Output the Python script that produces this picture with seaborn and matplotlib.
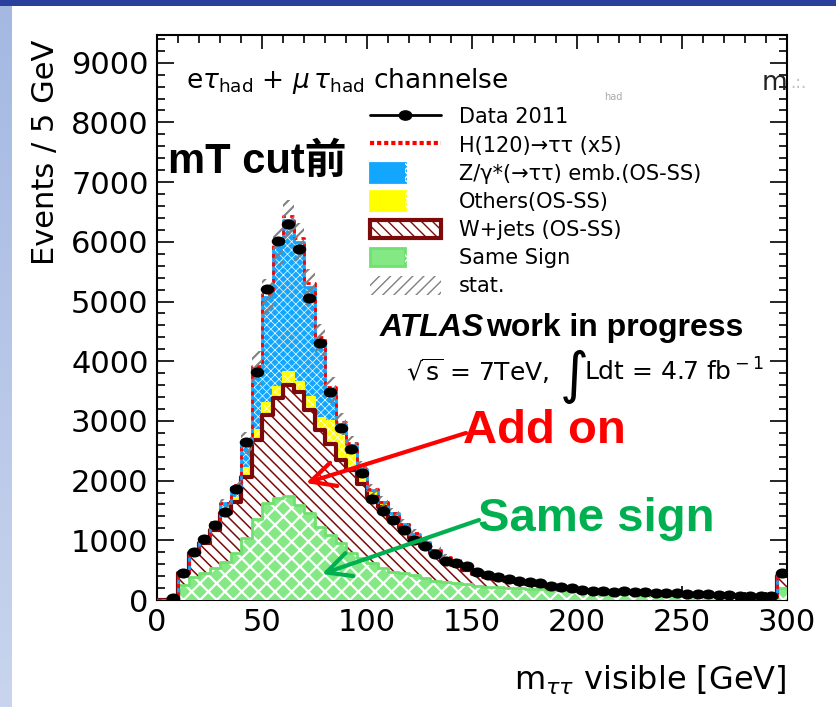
import numpy as np
import pandas as pd
import matplotlib
matplotlib.use("Agg")
import matplotlib.pyplot as plt
import seaborn as sns
from matplotlib.lines import Line2D
from matplotlib.patches import Patch, Rectangle
from matplotlib.path import Path
from matplotlib.transforms import Affine2D
from matplotlib.ticker import MultipleLocator
from matplotlib.colors import LinearSegmentedColormap
from matplotlib.legend_handler import HandlerTuple

# ---------------- data (5 GeV bins, 0-300 GeV) ----------------
bin_edges = np.arange(0, 305, 5)

same_sign = [0, 10, 251, 380, 447, 531, 642, 782, 1034, 1352,
             1620, 1704, 1743, 1592, 1453, 1228, 1089, 950, 782, 698,
             614, 531, 474, 452, 419, 363, 324, 307, 290, 270,
             240, 223, 215, 205, 195, 190, 180, 170, 160, 150,
             140, 132, 125, 118, 110, 104, 98, 92, 87, 82,
             78, 74, 70, 66, 62, 58, 55, 52, 50, 195]
wjets = [0, 5, 196, 402, 503, 642, 811, 866, 1033, 1330,
         1479, 1674, 1858, 1898, 1730, 1620, 1531, 1395, 1398, 1252,
         1116, 1029, 906, 748, 621, 537, 456, 353, 290, 240,
         200, 167, 135, 115, 100, 85, 70, 55, 45, 35,
         28, 25, 21, 18, 17, 16, 15, 14, 13, 12,
         11, 10, 10, 9, 9, 9, 8, 8, 7, 205]
others = [0, 3, 15, 18, 35, 47, 87, 56, 140, 167,
          195, 195, 224, 167, 223, 195, 380, 455, 270, 130,
          60, 40, 40, 40, 40, 40, 30, 30, 25, 25,
          25, 20, 20, 15, 15, 13, 12, 11, 10, 9,
          8, 7, 6, 6, 5, 5, 5, 4, 4, 4,
          4, 4, 3, 3, 3, 3, 3, 2, 2, 30]
ztautau = [0, 4, 13, 15, 25, 40, 80, 196, 419, 1037,
           1787, 2345, 2540, 2345, 1842, 1312, 520, 150, 150, 120,
           50, 40, 30, 30, 30, 25, 25, 20, 20, 20,
           15, 15, 15, 13, 12, 12, 10, 9, 9, 8,
           7, 6, 6, 5, 5, 5, 4, 4, 4, 4,
           3, 3, 3, 3, 3, 2, 2, 2, 2, 17]
higgs_x5 = [0, 0, 0, 0, 5, 8, 12, 18, 25, 35,
            50, 60, 70, 70, 60, 50, 40, 30, 22, 16,
            12, 9, 7, 5, 4, 3, 2, 2, 1, 1,
            1, 1, 0, 0, 0, 0, 0, 0, 0, 0,
            0, 0, 0, 0, 0, 0, 0, 0, 0, 0,
            0, 0, 0, 0, 0, 0, 0, 0, 0, 0]
stat_err = [0, 5, 40, 50, 60, 70, 80, 100, 180, 290,
            300, 320, 330, 320, 300, 260, 220, 180, 150, 130,
            110, 100, 90, 85, 80, 75, 70, 65, 60, 57,
            54, 51, 48, 46, 44, 42, 40, 38, 36, 34,
            32, 31, 30, 29, 28, 27, 26, 25, 24, 23,
            22, 21, 20, 20, 19, 19, 18, 18, 17, 40]
data_2011 = [0, 28, 458, 810, 1017, 1257, 1480, 1860, 2654, 3824,
             5209, 6013, 6293, 5874, 5053, 4300, 3479, 2887, 2529, 2133,
             1692, 1491, 1340, 1173, 1005, 910, 765, 653, 614, 575,
             475, 419, 380, 346, 324, 307, 279, 240, 223, 195,
             168, 156, 151, 140, 145, 140, 130, 120, 115, 110,
             105, 100, 95, 85, 80, 75, 70, 65, 60, 447]

x_ticks = [0, 50, 100, 150, 200, 250, 300]
y_ticks = [0, 1000, 2000, 3000, 4000, 5000, 6000, 7000, 8000, 9000]
legend_labels = ["Data 2011", "H(120)\u2192\u03c4\u03c4 (x5)",
                 "Z/\u03b3*(\u2192\u03c4\u03c4) emb.(OS-SS)", "Others(OS-SS)",
                 "W+jets (OS-SS)", "Same Sign", "stat."]

# ---------------- style ----------------
sns.set_theme(style="ticks")
plt.rcParams["font.family"] = ["DejaVu Sans"]
plt.rcParams["mathtext.fontset"] = "dejavusans"
plt.rcParams["hatch.linewidth"] = 1.0
plt.rcParams["text.color"] = "black"
plt.rcParams["axes.labelcolor"] = "black"

W, H = 836, 707
fig = plt.figure(figsize=(W / 100, H / 100), dpi=100)
fig.patch.set_facecolor("white")


def fx(x):
    return x / W


def fy(y):
    return 1 - y / H


# slide decoration
bg = fig.add_axes([0, 0, fx(12), fy(6)])
grad = np.linspace(0, 1, 256).reshape(-1, 1)
bg.imshow(grad, aspect="auto",
          cmap=LinearSegmentedColormap.from_list("s", ["#a4b8e2", "#c9d5ee"]))
bg.axis("off")
fig.patches.append(Rectangle((0, fy(6)), 1, 6 / H, transform=fig.transFigure,
                             facecolor="#2b3f9c", edgecolor="none"))

ax = fig.add_axes([fx(157), fy(600), 630 / W, 565 / H])
ax.set_facecolor("white")

centers = bin_edges[:-1] + 2.5
cum_ss = np.array(same_sign, float)
cum_w = cum_ss + np.array(wjets)
cum_o = cum_w + np.array(others)
cum_z = cum_o + np.array(ztautau)
cum_h = cum_z + np.array(higgs_x5)
stat = np.array(stat_err, float)
edges_list = [float(e) for e in bin_edges]

Z_BLUE = "#12a6ff"
YEL = "#ffff00"
MAROON = "#7d0a0a"
GREEN_F = "#84e884"
GREEN_E = "#70e070"


def layer_df(vals):
    return pd.DataFrame({"mass": centers.astype(float), "events": np.asarray(vals, float)})


def hist_fill(vals, face, hatch_color, hatch, z, hlw):
    sns.histplot(data=layer_df(vals), x="mass", weights="events", bins=edges_list,
                 element="step", fill=True, color=face, linewidth=0, ax=ax, zorder=z)
    coll = ax.collections[-1]
    coll.set_alpha(None)
    coll.set_facecolor(face)
    coll.set_edgecolor(hatch_color)
    coll.set_linewidth(0)
    coll.set_hatch(hatch)
    if hasattr(coll, "set_hatch_linewidth"):
        coll.set_hatch_linewidth(hlw)


def hist_line(vals, color, lw, z, ls="-"):
    sns.histplot(data=layer_df(vals), x="mass", weights="events", bins=edges_list,
                 element="step", fill=False, color=color, linewidth=lw,
                 linestyle=ls, ax=ax, zorder=z)


hist_fill(cum_z, Z_BLUE, "white", "xxxx", 1, 0.5)
hist_fill(cum_o, YEL, "white", "xxxx", 2, 0.5)
hist_fill(cum_w, "white", MAROON, "\\\\\\", 3, 1.1)
hist_fill(cum_ss, GREEN_F, "white", "xx", 4, 1.6)

hist_line(cum_ss, GREEN_E, 2.0, 5)
hist_line(cum_o, YEL, 1.5, 5)
hist_line(cum_w, MAROON, 3.0, 6)
hist_line(cum_z, Z_BLUE, 2.0, 6)
hist_line(cum_h, "red", 2.0, 7, ls=(0, (1.5, 1.5)))

band = ax.stairs(cum_z + stat, bin_edges, baseline=cum_z - stat, fill=True,
                 facecolor="none", edgecolor="#808080", hatch="///",
                 linewidth=0, zorder=9)
if hasattr(band, "set_hatch_linewidth"):
    band.set_hatch_linewidth(1.5)

data_arr = np.array(data_2011, float)
mask = data_arr > 0
ell = Path.unit_circle().transformed(Affine2D().scale(1.35, 1.0))
sns.scatterplot(x=centers[mask], y=data_arr[mask], marker=ell, s=95,
                color="black", edgecolor="black", linewidth=0, ax=ax,
                zorder=12, legend=False)

# axes
ax.set_xlim(0, 300)
ax.set_ylim(0, 9464)
ax.set_xticks(x_ticks)
ax.set_yticks(y_ticks)
ax.xaxis.set_minor_locator(MultipleLocator(10))
ax.yaxis.set_minor_locator(MultipleLocator(200))
ax.tick_params(which="both", direction="in", top=True, right=True,
               colors="black", width=1.2)
ax.tick_params(axis="x", which="major", length=10, labelsize=22, pad=6)
ax.tick_params(axis="x", which="minor", length=6)
ax.tick_params(axis="y", which="major", length=12, labelsize=22, pad=6)
ax.tick_params(axis="y", which="minor", length=6)
for s in ax.spines.values():
    s.set_visible(True)
    s.set_linewidth(1.5)
    s.set_color("black")

ax.set_xlabel(r"m$_{\tau\tau}$ visible [GeV]", loc="right", fontsize=23)
ax.xaxis.set_label_coords(1.0, (600 - 664) / 565)
ax.set_ylabel("Events / 5 GeV", loc="top", fontsize=22)
ax.yaxis.set_label_coords((60 - 157) / 630, (600 - 40) / 565)

# legend
handles = [
    Line2D([], [], color="black", lw=2, marker=ell, markersize=9),
    Line2D([], [], color="red", lw=3, linestyle=(0, (1.0, 0.7))),
    (Patch(facecolor=Z_BLUE, edgecolor=Z_BLUE, lw=2),
     Patch(facecolor="none", edgecolor="white", hatch="xxxx", lw=0)),
    (Patch(facecolor=YEL, edgecolor=YEL, lw=2),
     Patch(facecolor="none", edgecolor="white", hatch="xxxx", lw=0)),
    Patch(facecolor="white", edgecolor=MAROON, hatch="\\\\\\", lw=3),
    (Patch(facecolor=GREEN_F, edgecolor=GREEN_E, lw=2),
     Patch(facecolor="none", edgecolor="white", hatch="xx", lw=0)),
    Patch(facecolor="none", edgecolor="#808080", hatch="///", lw=0),
]
ax.legend(handles, legend_labels, handler_map={tuple: HandlerTuple(ndivide=None, pad=0)},
          loc="upper left", bbox_to_anchor=((370 - 157) / 630, (600 - 107) / 565),
          frameon=False, fontsize=15, handlelength=3.4, handleheight=1.0,
          handletextpad=0.85, labelspacing=0.37, borderpad=0, borderaxespad=0)

# texts
LIB = "Liberation Sans"
fig.text(fx(186), fy(88), r"e$\tau_{\rm had}$ + $\mu\,\tau_{\rm had}$ channelse",
         fontsize=19, va="baseline", ha="left")
fig.text(fx(762), fy(90), "m", fontsize=19, va="baseline", ha="left", color="#222222")
fig.text(fx(790), fy(88), ".:.", fontsize=12, va="baseline", ha="left", color="#c0c0c0")
fig.text(fx(604), fy(100), "had", fontsize=7, va="baseline", ha="left", color="#aaaaaa")
fig.text(fx(168), fy(173), "mT cut\u524d", fontsize=30, fontweight="bold",
         family=[LIB, "Noto Sans CJK SC"], va="baseline", ha="left")
fig.text(fx(380), fy(336), "ATLAS", fontsize=23, fontweight="bold", style="italic",
         family=LIB, va="baseline", ha="left")
fig.text(fx(486), fy(336), "work in progress", fontsize=23, fontweight="bold",
         family=LIB, va="baseline", ha="left")
fig.text(fx(406), fy(381), r"$\sqrt{\rm s}$ = 7TeV,", fontsize=18,
         va="baseline", ha="left")
fig.text(fx(560), fy(392), "\u222b", fontsize=40, va="baseline", ha="left")
fig.text(fx(584), fy(381), r"Ldt = 4.7 fb$^{\rm -1}$", fontsize=18,
         va="baseline", ha="left")

fig.text(fx(463), fy(443), "Add on", fontsize=34, fontweight="bold", family=LIB,
         color="#ff0000", va="baseline", ha="left")
fig.text(fx(478), fy(531), "Same sign", fontsize=34, fontweight="bold", family=LIB,
         color="#00b050", va="baseline", ha="left")

ax.annotate("", xy=(fx(306), fy(483)), xycoords="figure fraction",
            xytext=(fx(466), fy(433)), textcoords="figure fraction",
            arrowprops=dict(arrowstyle="->,head_length=0.7,head_width=0.35",
                            color="#ff0000", lw=3, shrinkA=0, shrinkB=0,
                            mutation_scale=25), zorder=20)
ax.annotate("", xy=(fx(322), fy(574)), xycoords="figure fraction",
            xytext=(fx(479), fy(520)), textcoords="figure fraction",
            arrowprops=dict(arrowstyle="->,head_length=0.7,head_width=0.35",
                            color="#00b050", lw=3, shrinkA=0, shrinkB=0,
                            mutation_scale=25), zorder=20)

fig.savefig("out.png", dpi=100)
